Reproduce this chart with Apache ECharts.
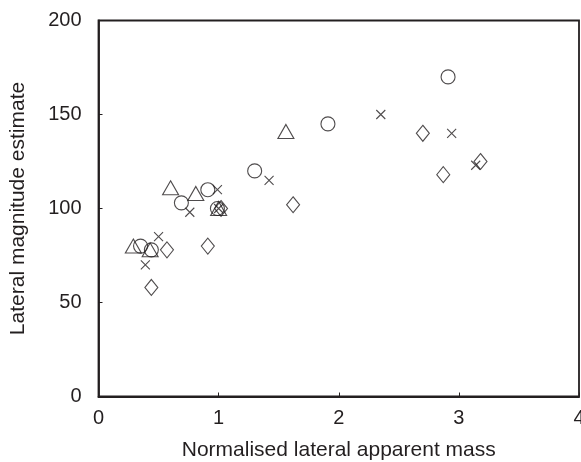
<!DOCTYPE html>
<html>
<head>
<meta charset="utf-8">
<script src="https://cdn.jsdelivr.net/npm/echarts@6/dist/echarts.min.js"></script>
<style>
  html, body { margin: 0; padding: 0; background: #fff; }
  #chart { width: 581px; height: 462px; }
</style>
</head>
<body>
<div id="chart"></div>
<script>
  // values
  const circleX = [0.35, 0.44, 0.69, 0.91, 0.99, 1.30, 1.91, 2.91]
  const circleY = [80, 78, 103, 110, 100, 120, 145, 170]
  const triangleX = [0.29, 0.43, 0.60, 0.81, 1.00, 1.56]
  const triangleY = [80, 78, 111, 108, 100, 141]
  const crossX = [0.39, 0.50, 0.76, 0.99, 1.00, 1.42, 2.35, 2.94, 3.14]
  const crossY = [70, 85, 98, 110, 100, 115, 150, 140, 123]
  const diamondX = [0.44, 0.57, 0.91, 1.02, 1.62, 2.70, 2.87, 3.18]
  const diamondY = [58, 78, 80, 100, 102, 140, 118, 125]

  const ink = '#231f20'
  const font = 'Liberation Sans, Arial, sans-serif'

  function pairs(xs, ys) {
    return xs.map((x, i) => [x, ys[i]])
  }

  function markers(name, xs, ys, symbol, size) {
    return {
      name: name,
      type: 'scatter',
      symbol: symbol,
      symbolSize: size,
      itemStyle: {
        color: 'rgba(0,0,0,0)',
        borderColor: ink,
        borderWidth: 1.1
      },
      emphasis: { disabled: true },
      data: pairs(xs, ys)
    }
  }

  let myChart = echarts.init(document.getElementById('chart'), null, { renderer: 'canvas' })
  let option = {
    animation: false,
    backgroundColor: '#fff',
    grid: {
      left: 98.5,
      right: 2,
      top: 20.5,
      bottom: 65.5,
      outerBoundsMode: 'none',
      containLabel: false,
      show: true,
      borderColor: ink,
      borderWidth: 1.8
    },
    xAxis: {
      type: 'value',
      min: 0,
      max: 4,
      interval: 1,
      name: 'Normalised lateral apparent mass',
      nameLocation: 'middle',
      nameGap: 43,
      nameTextStyle: { color: ink, fontSize: 21, fontFamily: font },
      axisLine: { show: true, onZero: false, lineStyle: { color: ink, width: 1.8 } },
      axisTick: { show: true, inside: true, length: 4, lineStyle: { color: ink } },
      axisLabel: { color: ink, fontSize: 20, fontFamily: font, margin: 12 },
      splitLine: { show: false }
    },
    yAxis: {
      type: 'value',
      min: 0,
      max: 200,
      interval: 50,
      name: 'Lateral magnitude estimate',
      nameLocation: 'middle',
      nameGap: 70,
      nameTextStyle: { color: ink, fontSize: 21, fontFamily: font },
      axisLine: { show: true, onZero: false, lineStyle: { color: ink, width: 1.8 } },
      axisTick: { show: true, inside: true, length: 4, lineStyle: { color: ink } },
      axisLabel: { color: ink, fontSize: 20, fontFamily: font, margin: 17 },
      splitLine: { show: false }
    },
    series: [
      markers('circle', circleX, circleY, 'circle', 14),
      markers('triangle', triangleX, triangleY, 'triangle', [16, 14]),
      markers('cross', crossX, crossY, 'path://M0,0L10,10M10,0L0,10', 9),
      markers('diamond', diamondX, diamondY, 'diamond', [13, 16])
    ]
  }
  myChart.setOption(option)
</script>
</body>
</html>
